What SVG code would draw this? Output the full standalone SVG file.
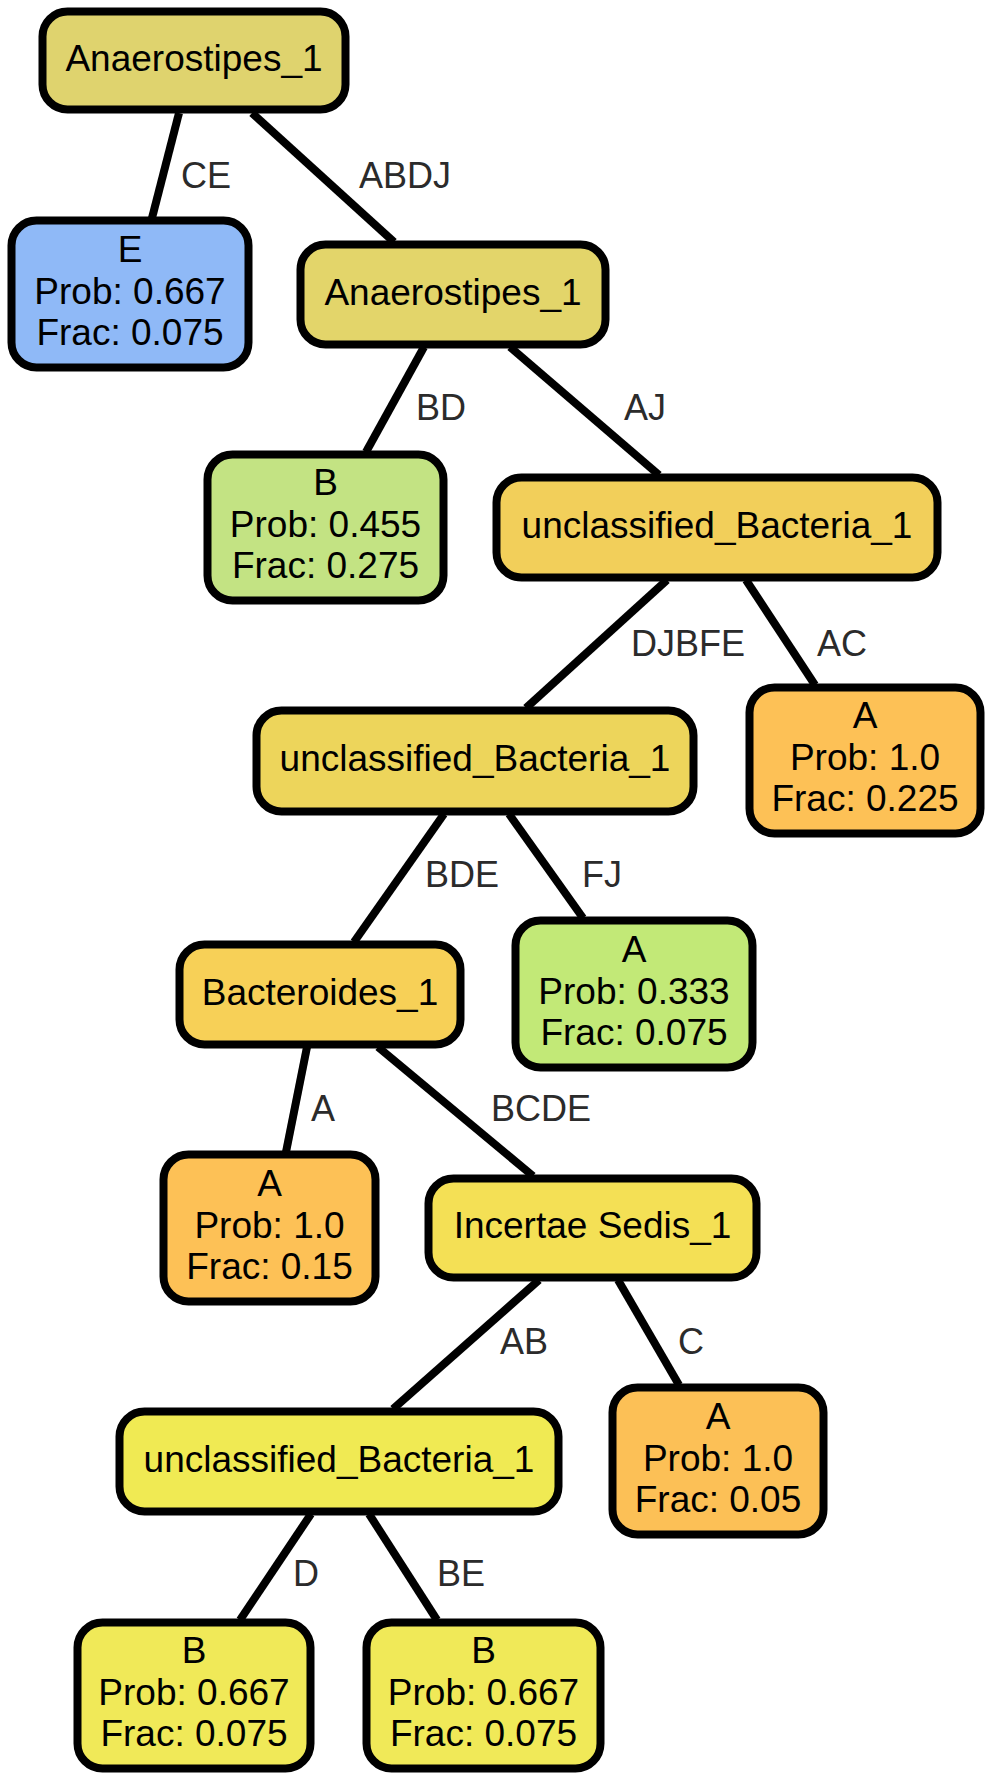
<svg xmlns="http://www.w3.org/2000/svg" width="993" height="1779" viewBox="0 0 993 1779">
<style>
.n{stroke:#000;stroke-width:8}
.t{font-family:"Liberation Sans",Arial,Helvetica,sans-serif;font-size:37px;fill:#000;text-anchor:middle}
.l{font-family:"Liberation Sans",Arial,Helvetica,sans-serif;font-size:36px;fill:#2b2b2b}
.e{stroke:#000;stroke-width:8;fill:none}
</style>
<rect width="993" height="1779" fill="#fff"/>
<g id="connectors">
<line class="e" x1="179" y1="113" x2="152" y2="218"/>
<line class="e" x1="252" y1="113" x2="394" y2="242"/>
<line class="e" x1="424" y1="347" x2="366" y2="452"/>
<line class="e" x1="510" y1="347" x2="659" y2="475"/>
<line class="e" x1="667" y1="580" x2="526" y2="708"/>
<line class="e" x1="746" y1="580" x2="815" y2="685"/>
<line class="e" x1="444" y1="814" x2="354" y2="942"/>
<line class="e" x1="509" y1="814" x2="583" y2="918"/>
<line class="e" x1="307" y1="1047" x2="286" y2="1152"/>
<line class="e" x1="378" y1="1047" x2="533" y2="1176"/>
<line class="e" x1="539" y1="1280" x2="393" y2="1409"/>
<line class="e" x1="618" y1="1280" x2="679" y2="1385"/>
<line class="e" x1="311" y1="1514" x2="240" y2="1620"/>
<line class="e" x1="369" y1="1514" x2="437" y2="1620"/>
<text class="l" x="181" y="188">CE</text>
<text class="l" x="359" y="188">ABDJ</text>
<text class="l" x="416" y="420">BD</text>
<text class="l" x="624" y="420">AJ</text>
<text class="l" x="631" y="656">DJBFE</text>
<text class="l" x="817" y="656">AC</text>
<text class="l" x="425" y="887">BDE</text>
<text class="l" x="582" y="887">FJ</text>
<text class="l" x="311" y="1121">A</text>
<text class="l" x="491" y="1121">BCDE</text>
<text class="l" x="500" y="1354">AB</text>
<text class="l" x="678" y="1354">C</text>
<text class="l" x="293" y="1586">D</text>
<text class="l" x="437" y="1586">BE</text>
</g>
<g id="n1"><rect class="n" x="42.5" y="11.5" width="303" height="98" rx="25" fill="#DFD36E"/><text class="t" x="194" y="71">Anaerostipes_1</text></g>
<g id="n2"><rect class="n" x="11.5" y="220.5" width="237" height="147" rx="25" fill="#8FB9F7"/><text class="t" x="130" y="262">E</text><text class="t" x="130" y="304">Prob: 0.667</text><text class="t" x="130" y="345">Frac: 0.075</text></g>
<g id="n3"><rect class="n" x="300.5" y="244.5" width="305" height="100" rx="25" fill="#E3D56A"/><text class="t" x="453" y="305">Anaerostipes_1</text></g>
<g id="n4"><rect class="n" x="207.5" y="454.5" width="236" height="146" rx="25" fill="#C3E383"/><text class="t" x="325.5" y="495">B</text><text class="t" x="325.5" y="537">Prob: 0.455</text><text class="t" x="325.5" y="578">Frac: 0.275</text></g>
<g id="n5"><rect class="n" x="496.5" y="477.5" width="441" height="100" rx="25" fill="#F2CF5A"/><text class="t" x="717" y="538">unclassified_Bacteria_1</text></g>
<g id="n6"><rect class="n" x="749.5" y="687.5" width="231" height="146" rx="25" fill="#FDC156"/><text class="t" x="865" y="728">A</text><text class="t" x="865" y="770">Prob: 1.0</text><text class="t" x="865" y="811">Frac: 0.225</text></g>
<g id="n7"><rect class="n" x="256.5" y="710.5" width="437" height="101" rx="25" fill="#EDD55B"/><text class="t" x="475" y="771">unclassified_Bacteria_1</text></g>
<g id="n8"><rect class="n" x="179.5" y="944.5" width="281" height="100" rx="25" fill="#F7D057"/><text class="t" x="320" y="1005">Bacteroides_1</text></g>
<g id="n9"><rect class="n" x="515.5" y="920.5" width="237" height="147" rx="25" fill="#C2E977"/><text class="t" x="634" y="962">A</text><text class="t" x="634" y="1004">Prob: 0.333</text><text class="t" x="634" y="1045">Frac: 0.075</text></g>
<g id="n10"><rect class="n" x="163.5" y="1154.5" width="212" height="147" rx="25" fill="#FDC156"/><text class="t" x="269.5" y="1196">A</text><text class="t" x="269.5" y="1238">Prob: 1.0</text><text class="t" x="269.5" y="1279">Frac: 0.15</text></g>
<g id="n11"><rect class="n" x="428.5" y="1178.5" width="328" height="99" rx="25" fill="#F4E055"/><text class="t" x="592.5" y="1238">Incertae Sedis_1</text></g>
<g id="n12"><rect class="n" x="119.5" y="1411.5" width="439" height="100" rx="25" fill="#F0EA53"/><text class="t" x="339" y="1472">unclassified_Bacteria_1</text></g>
<g id="n13"><rect class="n" x="612.5" y="1387.5" width="211" height="147" rx="25" fill="#FCC056"/><text class="t" x="718" y="1429">A</text><text class="t" x="718" y="1471">Prob: 1.0</text><text class="t" x="718" y="1512">Frac: 0.05</text></g>
<g id="n14"><rect class="n" x="77.5" y="1622.5" width="233" height="146" rx="25" fill="#F0E958"/><text class="t" x="194" y="1663">B</text><text class="t" x="194" y="1705">Prob: 0.667</text><text class="t" x="194" y="1746">Frac: 0.075</text></g>
<g id="n15"><rect class="n" x="366.5" y="1622.5" width="234" height="146" rx="25" fill="#F0E958"/><text class="t" x="483.5" y="1663">B</text><text class="t" x="483.5" y="1705">Prob: 0.667</text><text class="t" x="483.5" y="1746">Frac: 0.075</text></g>
</svg>
